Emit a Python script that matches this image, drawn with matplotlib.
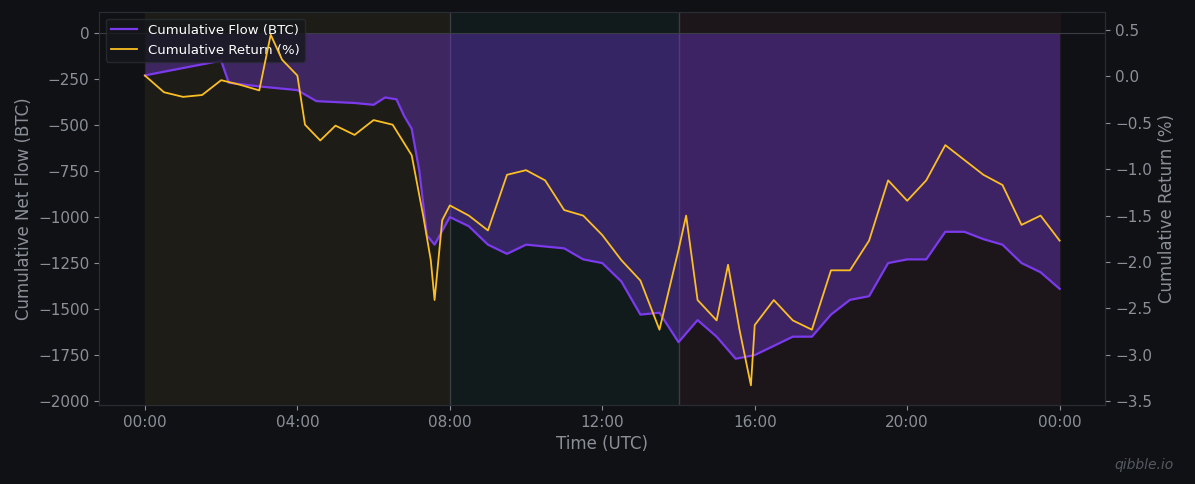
import matplotlib
matplotlib.use("Agg")
import matplotlib.pyplot as plt
import matplotlib.dates as mdates
import numpy as np
import datetime as dt

flow_h = [0, 2, 2.2, 3, 4, 4.5, 5.5, 6, 6.3, 6.6, 6.8, 7, 7.2, 7.4, 7.6, 8, 8.5, 9, 9.5, 10, 11, 11.5, 12, 12.5,
          13, 13.5, 14, 14.5, 15, 15.5, 16, 16.5, 17, 17.5, 18, 18.5, 19, 19.5, 20, 20.5, 21, 21.5, 22, 22.5, 23, 23.5, 24]
flow_v = [-230, -150, -270, -290, -310, -370, -380, -390, -350, -360, -450, -520, -750, -1100, -1150, -1000, -1050,
          -1150, -1200, -1150, -1170, -1230, -1250, -1350, -1530, -1520, -1680, -1560, -1650, -1770, -1750, -1700,
          -1650, -1650, -1530, -1450, -1430, -1250, -1230, -1230, -1080, -1080, -1120, -1150, -1250, -1300, -1390]

ret_h = [0, 0.5, 1, 1.5, 2, 2.5, 3, 3.3, 3.6, 4, 4.2, 4.6, 5, 5.5, 6, 6.5, 7, 7.3, 7.5, 7.6, 7.8, 8, 8.5, 9, 9.5,
         10, 10.5, 11, 11.5, 12, 12.5, 13, 13.5, 14, 14.2, 14.5, 15, 15.3, 15.6, 15.9, 16, 16.5, 17, 17.5, 18, 18.5,
         19, 19.5, 20, 20.5, 21, 21.5, 22, 22.5, 23, 23.5, 24]
ret_v = [0.01, -0.17, -0.22, -0.20, -0.04, -0.09, -0.15, 0.45, 0.18, 0.01, -0.52, -0.69, -0.53, -0.63, -0.47,
         -0.52, -0.85, -1.50, -1.98, -2.41, -1.55, -1.39, -1.50, -1.66, -1.06, -1.01, -1.12, -1.44, -1.50, -1.71,
         -1.98, -2.20, -2.73, -1.87, -1.50, -2.41, -2.63, -2.03, -2.73, -3.33, -2.68, -2.41, -2.63, -2.73, -2.09,
         -2.09, -1.77, -1.12, -1.34, -1.12, -0.74, -0.90, -1.06, -1.17, -1.60, -1.50, -1.77]

base = dt.datetime(2024, 1, 1)
ft = [base + dt.timedelta(hours=h) for h in flow_h]
rt = [base + dt.timedelta(hours=h) for h in ret_h]

bg = "#0f1115"
fig = plt.figure(figsize=(11.95, 4.84), dpi=100, facecolor=bg)
ax = fig.add_axes([0.083, 0.163, 0.842, 0.812], facecolor=bg)
ax2 = ax.twinx()

regions = [(0, 8, "#1e1c17"), (8, 14, "#111b1c"), (14, 24, "#1c161b")]
for a, b, c in regions:
    ax.axvspan(base + dt.timedelta(hours=a), base + dt.timedelta(hours=b), color=c, zorder=0)
for h in (8, 14):
    ax.axvline(base + dt.timedelta(hours=h), color="#3a3d44", lw=1, zorder=1)

ax.fill_between(ft, flow_v, 0, color="#7c3aed", alpha=0.35, lw=0, zorder=2)
l1, = ax.plot(ft, flow_v, color="#7c3aed", lw=1.6, zorder=3, label="Cumulative Flow (BTC)")
ax.axhline(0, color="#3a3d44", lw=0.8)
l2, = ax2.plot(rt, ret_v, color="#fbbf24", lw=1.3, label="Cumulative Return (%)")

ax.set_xlim(base - dt.timedelta(hours=1.2), base + dt.timedelta(hours=25.2))
ax.set_ylim(-2022, 114)
ax2.set_ylim(-3.543, 0.694)
ax.set_yticks(np.arange(-2000, 1, 250))
ax2.set_yticks(np.arange(-3.5, 0.51, 0.5))
ax.xaxis.set_major_locator(mdates.HourLocator(byhour=[0, 4, 8, 12, 16, 20]))
ax.xaxis.set_major_formatter(mdates.DateFormatter("%H:%M"))

tc = "#8b8f98"
for a in (ax, ax2):
    a.tick_params(colors=tc, labelsize=11)
    for s in a.spines.values():
        s.set_color("#2a2d33")
ax.set_xlabel("Time (UTC)", color=tc, fontsize=12)
ax.set_ylabel("Cumulative Net Flow (BTC)", color=tc, fontsize=12)
ax2.set_ylabel("Cumulative Return (%)", color=tc, fontsize=12)

leg = ax.legend(handles=[l1, l2], loc="upper left", facecolor="#15171c", edgecolor="#2a2d33",
                fontsize=9.5, borderaxespad=0.5)
for t in leg.get_texts():
    t.set_color("white")
fig.text(0.982, 0.03, "qibble.io", color="#555962", fontsize=10, style="italic", ha="right")
fig.savefig("out.png", facecolor=bg)
